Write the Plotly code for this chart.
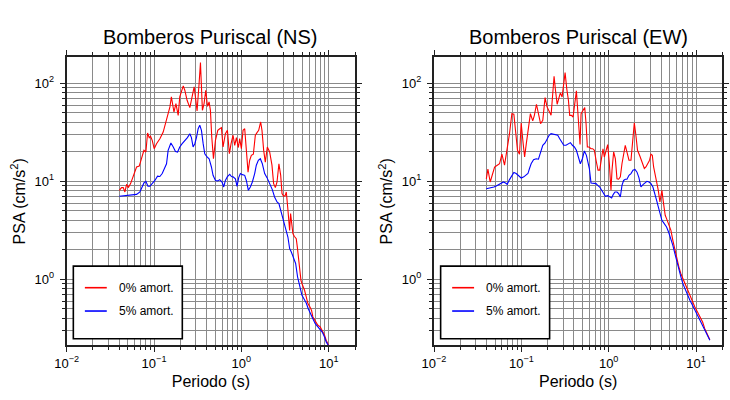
import plotly.graph_objects as go

# ---------------- data ----------------
ns_t_0 = [0.0400, 0.0425, 0.0444, 0.0464, 0.0485, 0.0507, 0.0539, 0.0578, 0.0631, 0.0677,
          0.0720, 0.0766, 0.0807, 0.0843, 0.0881, 0.0912, 0.0953, 0.1004, 0.1068, 0.1166,
          0.1273, 0.139, 0.152, 0.158, 0.169, 0.178, 0.189, 0.197, 0.206, 0.216,
          0.225, 0.239, 0.257, 0.271, 0.288, 0.301, 0.311, 0.328, 0.340, 0.358,
          0.374, 0.391, 0.409, 0.427, 0.442, 0.458, 0.479, 0.505, 0.537, 0.565,
          0.591, 0.617, 0.656, 0.692, 0.729, 0.762, 0.803, 0.839, 0.877, 0.924,
          0.957, 1.000, 1.045, 1.092, 1.140, 1.192, 1.245, 1.301, 1.371, 1.445,
          1.510, 1.578, 1.663, 1.722, 1.800, 1.880, 1.982, 2.108, 2.240, 2.34,
          2.45, 2.56, 2.69, 2.82, 2.92, 3.05, 3.18, 3.27, 3.39, 3.47,
          3.57, 3.66, 3.76, 3.89, 4.03, 4.25, 4.37, 4.56, 4.81, 5.02,
          5.29, 5.53, 5.78, 6.04, 6.36, 6.59, 7.07, 7.52, 8.00, 8.43,
          8.96, 9.36, 10.0]
ns_psa_0 = [8.09, 8.62, 8.62, 7.78, 9.32, 8.62, 9.47, 11.1, 14.0, 14.3,
            17.7, 20.7, 19.9, 31.1, 27.9, 28.8, 26.2, 21.5, 24.2, 27.2,
            31.8, 41.9, 57.4, 72.6, 50.9, 62.1, 47.1, 72.6, 81.7, 94.0,
            84.9, 67.1, 56.5, 72.6, 91.9, 67.1, 52.2, 99.3, 162.5, 53.0,
            62.1, 84.9, 58.2, 64.5, 53.0, 28.3, 17.0, 26.2, 33.1, 34.4,
            35.3, 22.4, 30.6, 33.1, 19.1, 24.2, 29.5, 23.3, 27.9, 22.1,
            27.2, 21.5, 33.1, 34.4, 20.7, 12.4, 16.4, 18.4, 18.9, 29.5,
            31.4, 33.1, 40.3, 33.1, 20.7, 15.7, 22.4, 19.9, 14.6, 9.47,
            8.62, 9.84, 15.1, 11.5, 7.48, 7.03, 7.19, 7.78, 5.47, 4.00,
            3.16, 4.68, 4.00, 2.93, 2.75, 2.60, 2.14, 1.39, 0.977, 0.869,
            0.773, 0.661, 0.565, 0.530, 0.483, 0.413, 0.367, 0.340, 0.327, 0.302,
            0.269, 0.239, 0.212]

ns_t_5 = [0.0400, 0.0444, 0.0485, 0.0530, 0.0578, 0.0631, 0.0689, 0.0732, 0.0766, 0.0807,
          0.0851, 0.0896, 0.0961, 0.1022, 0.1097, 0.1166, 0.1240, 0.1330, 0.139, 0.145,
          0.156, 0.166, 0.176, 0.186, 0.197, 0.210, 0.225, 0.241, 0.257, 0.268,
          0.280, 0.293, 0.306, 0.320, 0.334, 0.349, 0.365, 0.381, 0.405, 0.427,
          0.454, 0.474, 0.505, 0.537, 0.565, 0.601, 0.628, 0.656, 0.692, 0.736,
          0.769, 0.803, 0.854, 0.892, 0.932, 0.974, 1.027, 1.092, 1.140, 1.202,
          1.267, 1.336, 1.420, 1.483, 1.564, 1.648, 1.738, 1.848, 1.965, 2.108,
          2.26, 2.40, 2.56, 2.69, 2.82, 2.94, 3.07, 3.21, 3.41, 3.57,
          3.73, 3.96, 4.18, 4.40, 4.64, 4.94, 5.20, 5.53, 5.83, 6.15,
          6.59, 7.01, 7.52, 8.00, 8.43, 8.96, 9.36, 10.0]
ns_psa_5 = [7.03, 7.08, 7.14, 7.19, 7.19, 7.36, 7.78, 8.75, 9.62, 10.0,
            8.89, 8.89, 9.47, 10.2, 11.3, 11.2, 12.0, 13.5, 15.1, 20.7,
            24.6, 22.4, 20.1, 19.9, 22.4, 24.2, 25.8, 27.9, 30.6, 27.9,
            22.4, 24.2, 27.9, 34.4, 37.3, 33.1, 24.2, 19.1, 17.7, 17.0,
            14.0, 11.5, 10.2, 10.1, 10.4, 9.84, 8.75, 10.2, 11.2, 11.8,
            11.2, 11.1, 10.6, 8.89, 10.9, 12.0, 11.7, 11.5, 10.2, 8.09,
            8.75, 9.84, 12.0, 14.6, 16.4, 17.0, 15.1, 12.0, 10.9, 9.62,
            8.22, 6.92, 6.15, 5.92, 5.14, 4.33, 3.85, 3.29, 2.70, 2.06,
            1.90, 1.63, 1.45, 1.06, 0.836, 0.687, 0.635, 0.574, 0.502, 0.447,
            0.397, 0.353, 0.327, 0.314, 0.290, 0.258, 0.230, 0.209]

ew_t_0 = [0.0397, 0.0414, 0.0440, 0.0464, 0.0494, 0.0530, 0.0563, 0.0599, 0.0642, 0.0683,
          0.0732, 0.0779, 0.0821, 0.0865, 0.0904, 0.0953, 0.0996, 0.104, 0.109, 0.114,
          0.119, 0.127, 0.135, 0.141, 0.149, 0.157, 0.166, 0.176, 0.187, 0.197,
          0.208, 0.219, 0.229, 0.237, 0.246, 0.257, 0.268, 0.280, 0.293, 0.306,
          0.317, 0.331, 0.346, 0.358, 0.374, 0.391, 0.409, 0.427, 0.442, 0.454,
          0.470, 0.483, 0.505, 0.532, 0.551, 0.570, 0.596, 0.628, 0.656, 0.686,
          0.717, 0.755, 0.789, 0.832, 0.861, 0.892, 0.932, 0.974, 1.018, 1.063,
          1.092, 1.140, 1.192, 1.245, 1.301, 1.360, 1.420, 1.483, 1.549, 1.620,
          1.708, 1.800, 1.880, 1.965, 2.05, 2.14, 2.28, 2.43, 2.56, 2.67,
          2.79, 2.94, 3.05, 3.16, 3.27, 3.39, 3.54, 3.70, 3.86, 4.07,
          4.25, 4.44, 4.60, 4.85, 5.16, 5.43, 5.73, 6.04, 6.36, 6.71,
          7.07, 7.52, 8.00, 8.51, 9.12, 9.70, 10.4, 11.2, 11.9, 12.6,
          13.5, 14.4]
ew_psa_0 = [10.6, 13.3, 9.84, 11.5, 14.0, 14.6, 15.1, 18.9, 14.6, 20.7,
            30.6, 49.0, 48.3, 30.6, 20.7, 18.9, 39.4, 26.2, 17.7, 24.2,
            33.1, 49.0, 41.3, 47.1, 61.1, 47.1, 38.7, 41.9, 71.5, 57.4,
            50.9, 47.1, 78.5, 117.8, 84.9, 61.1, 69.8, 79.7, 72.6, 95.5,
            128.5, 88.3, 67.1, 47.1, 47.1, 45.3, 62.1, 83.6, 53.0, 38.7,
            23.7, 49.0, 51.8, 56.5, 38.7, 22.4, 22.4, 21.5, 21.5, 20.7,
            16.4, 13.0, 13.0, 17.7, 21.5, 17.7, 20.7, 23.7, 15.1, 8.09,
            13.0, 19.9, 17.0, 10.6, 10.5, 11.1, 15.1, 19.9, 23.3, 19.9,
            16.4, 16.4, 24.2, 39.4, 29.5, 20.7, 18.0, 15.7, 13.5, 14.0,
            15.1, 16.4, 18.9, 18.4, 14.0, 12.0, 9.84, 8.09, 6.15, 8.09,
            5.92, 4.50, 4.16, 3.70, 3.16, 2.50, 1.98, 1.63, 1.34, 1.14,
            1.02, 0.869, 0.773, 0.671, 0.587, 0.522, 0.464, 0.413, 0.367, 0.314,
            0.269, 0.242]

ew_t_5 = [0.0397, 0.0421, 0.0452, 0.0485, 0.0516, 0.0548, 0.0588, 0.0625, 0.0659, 0.0689,
          0.0732, 0.0779, 0.0821, 0.0873, 0.0929, 0.0996, 0.1068, 0.114, 0.119, 0.124,
          0.1295, 0.138, 0.148, 0.157, 0.166, 0.176, 0.187, 0.197, 0.208, 0.219,
          0.233, 0.248, 0.261, 0.275, 0.290, 0.306, 0.325, 0.346, 0.365, 0.384,
          0.405, 0.427, 0.450, 0.474, 0.500, 0.527, 0.556, 0.575, 0.601, 0.628,
          0.674, 0.717, 0.748, 0.789, 0.832, 0.877, 0.916, 0.974, 1.027, 1.082,
          1.130, 1.181, 1.245, 1.301, 1.360, 1.420, 1.483, 1.549, 1.620, 1.708,
          1.800, 1.897, 2.00, 2.11, 2.22, 2.34, 2.47, 2.60, 2.74, 2.89,
          3.05, 3.21, 3.39, 3.54, 3.70, 3.89, 4.07, 4.33, 4.60, 4.85,
          5.16, 5.43, 5.73, 6.04, 6.36, 6.71, 7.07, 7.52, 8.00, 8.51,
          9.12, 9.70, 10.4, 11.2, 11.9, 12.6, 13.5, 14.4]
ew_psa_5 = [8.41, 8.48, 8.62, 8.75, 8.96, 9.25, 9.69, 9.84, 9.62, 9.32,
            10.4, 11.5, 12.3, 12.0, 11.3, 10.8, 11.1, 11.5, 12.0, 13.5,
            15.1, 16.6, 17.0, 16.8, 19.9, 23.3, 24.6, 26.6, 29.5, 30.6,
            30.2, 29.5, 29.5, 27.2, 25.2, 23.3, 23.3, 24.2, 24.8, 23.3,
            22.4, 20.7, 17.0, 15.1, 17.0, 20.4, 18.4, 16.4, 13.5, 9.62,
            9.47, 9.47, 9.10, 8.75, 8.09, 7.36, 7.03, 7.14, 6.92, 6.76,
            7.36, 7.78, 7.78, 7.48, 6.92, 9.10, 10.2, 10.5, 10.5, 11.5,
            12.0, 13.0, 13.2, 12.4, 10.9, 8.75, 9.25, 9.69, 10.0, 9.84,
            9.47, 8.75, 7.48, 6.40, 5.47, 4.68, 4.00, 3.70, 3.42, 3.04,
            2.60, 2.22, 1.83, 1.50, 1.24, 1.06, 0.904, 0.785, 0.687, 0.611,
            0.543, 0.483, 0.430, 0.382, 0.340, 0.302, 0.269, 0.239]

titles = ["Bomberos Puriscal (NS)", "Bomberos Puriscal (EW)"]
legend_labels = ["0% amort.", "5% amort."]
x_label = "Periodo (s)"
y_label = "PSA (cm/s<sup>2</sup>)"
x_tick_vals = [0.01, 0.1, 1, 10]
x_tick_text = ["10<sup>\u22122</sup>", "10<sup>\u22121</sup>", "10<sup>0</sup>", "10<sup>1</sup>"]
y_tick_vals = [1, 10, 100]
y_tick_text = ["10<sup>0</sup>", "10<sup>1</sup>", "10<sup>2</sup>"]

# ---------------- styling ----------------
FONT = "Liberation Sans, Arial, Helvetica, sans-serif"
RED = "#ff0000"
BLUE = "#0000ff"
GRID = "#8a8a8a"
FRAME = "#222222"

x_minor = [m * 10.0 ** e for e in range(-2, 2) for m in range(2, 10)]
y_minor = [m * 10.0 ** e for e in range(-1, 3) for m in range(2, 10)]

fig = go.Figure()

panels = [
    ("x", "y", ns_t_0, ns_psa_0, ns_t_5, ns_psa_5),
    ("x2", "y2", ew_t_0, ew_psa_0, ew_t_5, ew_psa_5),
]
for xa, ya, t0, p0, t5, p5 in panels:
    fig.add_trace(go.Scatter(x=t0, y=p0, mode="lines", xaxis=xa, yaxis=ya,
                             line=dict(color=RED, width=1.1), showlegend=False,
                             name=legend_labels[0]))
    fig.add_trace(go.Scatter(x=t5, y=p5, mode="lines", xaxis=xa, yaxis=ya,
                             line=dict(color=BLUE, width=1.1), showlegend=False,
                             name=legend_labels[1]))

W, H = 730, 400
x_doms = [[66.7 / W, 355.0 / W], [434.0 / W, 722.3 / W]]
y_dom = [1 - 345.3 / H, 1 - 57.3 / H]


def xaxis_cfg(dom, anchor):
    return dict(
        type="log", range=[-2, 1.301], domain=dom, anchor=anchor, automargin=False,
        tickmode="array", tickvals=x_tick_vals, ticktext=x_tick_text,
        ticks="outside", ticklen=5, tickwidth=1, tickcolor=FRAME,
        showline=True, linewidth=2, linecolor=FRAME, mirror="allticks",
        showgrid=True, gridcolor=GRID, gridwidth=0.8,
        minor=dict(tickmode="array", tickvals=x_minor, ticks="outside", ticklen=3,
                   tickcolor=FRAME, showgrid=True, gridcolor=GRID, gridwidth=0.8),
        tickfont=dict(family=FONT, size=13, color="#000"),
        title=dict(text=x_label, font=dict(family=FONT, size=16, color="#000"), standoff=6),
        zeroline=False,
    )


def yaxis_cfg(anchor):
    return dict(
        type="log", range=[-0.673, 2.265], domain=y_dom, anchor=anchor, automargin=False,
        tickmode="array", tickvals=y_tick_vals, ticktext=y_tick_text,
        ticks="outside", ticklen=5, tickwidth=1, tickcolor=FRAME,
        ticklabelstandoff=3,
        showline=True, linewidth=2, linecolor=FRAME, mirror="allticks",
        showgrid=True, gridcolor=GRID, gridwidth=0.8,
        minor=dict(tickmode="array", tickvals=y_minor, ticks="outside", ticklen=3,
                   tickcolor=FRAME, showgrid=True, gridcolor=GRID, gridwidth=0.8),
        tickfont=dict(family=FONT, size=13, color="#000"),
        title=dict(text=y_label, font=dict(family=FONT, size=16, color="#000"), standoff=5),
        zeroline=False,
    )


fig.update_layout(
    width=W, height=H,
    margin=dict(l=0, r=0, t=0, b=0, pad=0, autoexpand=False),
    paper_bgcolor="white", plot_bgcolor="white",
    xaxis=xaxis_cfg(x_doms[0], "y"),
    yaxis=yaxis_cfg("x"),
    xaxis2=xaxis_cfg(x_doms[1], "y2"),
    yaxis2=yaxis_cfg("x2"),
    showlegend=False,
)

# titles
for i, dom in enumerate(x_doms):
    fig.add_annotation(text=titles[i], xref="paper", yref="paper",
                       x=(dom[0] + dom[1]) / 2, y=1 - 37 / H,
                       xanchor="center", yanchor="middle", showarrow=False,
                       font=dict(family=FONT, size=20, color="#000"))

# legend boxes (drawn inside each panel, in axis-domain coordinates)
for i, (xa, ya) in enumerate([("x", "y"), ("x2", "y2")]):
    xr, yr = f"{xa} domain", f"{ya} domain"
    fig.add_shape(type="rect", xref=xr, yref=yr, x0=0.023, x1=0.401, y0=0.023, y1=0.275,
                  line=dict(color="#000", width=1.6), fillcolor="white", layer="above")
    for j, (col, yy) in enumerate([(RED, 0.200), (BLUE, 0.119)]):
        fig.add_shape(type="line", xref=xr, yref=yr, x0=0.063, x1=0.139, y0=yy, y1=yy,
                      line=dict(color=col, width=1.6), layer="above")
        fig.add_annotation(text=legend_labels[j], xref=xr, yref=yr, x=0.174, y=yy,
                           xanchor="left", yanchor="middle", showarrow=False,
                           font=dict(family=FONT, size=12, color="#000"))

# remove the browser's default 8px page margin so the figure sits at the window origin
fig.write_html("out.html", config={"displayModeBar": False},
               post_script="document.body.style.margin='0';")
